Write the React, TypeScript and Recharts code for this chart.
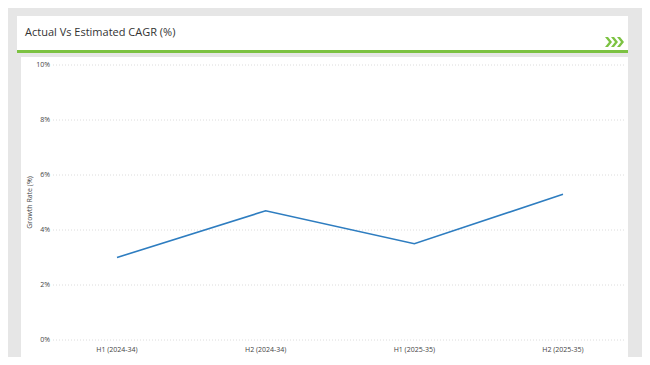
import { LineChart, Line, XAxis, YAxis, CartesianGrid } from 'recharts';

const periods = ['H1 (2024-34)', 'H2 (2024-34)', 'H1 (2025-35)', 'H2 (2025-35)'];
const growthRates = [3.0, 4.7, 3.5, 5.3];
const yTicks = [0, 2, 4, 6, 8, 10];

const chartData = periods.map((period, i) => ({ period, rate: growthRates[i] }));

const FONT = '"Open Sans", "Liberation Sans", Arial, sans-serif';

export default function App() {
  return (
    <div
      style={{
        position: 'relative',
        width: 650,
        height: 365,
        margin: -8,
        background: '#e6e6e6',
        fontFamily: FONT,
        overflow: 'hidden',
      }}
    >
      {/* header */}
      <div
        style={{
          position: 'absolute',
          left: 17,
          top: 16,
          width: 611,
          height: 34,
          background: '#fff',
          borderBottom: '3px solid #7cc242',
        }}
      >
        <div style={{ position: 'absolute', left: 8, top: 8, fontSize: 11, color: '#333' }}>
          Actual Vs Estimated CAGR (%)
        </div>
        <svg style={{ position: 'absolute', left: 588, top: 21 }} width={20} height={10}>
          {[0, 6, 12].map((x) => (
            <polygon key={x} points={`${x},0 ${x + 3},0 ${x + 7},5 ${x + 3},10 ${x},10 ${x + 4},5`} fill="#7cc242" />
          ))}
        </svg>
      </div>

      {/* chart */}
      <div style={{ position: 'absolute', left: 21, top: 57, width: 607, height: 300, background: '#fff' }}>
        <LineChart width={607} height={300} data={chartData} margin={{ top: 8, right: 3, bottom: 0, left: 0 }}>
          <CartesianGrid vertical={false} stroke="#dcdcdc" strokeDasharray="1 2" />
          <XAxis
            dataKey="period"
            axisLine={false}
            tickLine={false}
            tickSize={0}
            height={17}
            tickMargin={7}
            padding={{ left: 64, right: 62 }}
            tick={{ fontSize: 7, fill: '#444', fontFamily: FONT }}
            interval={0}
          />
          <YAxis
            width={32}
            domain={[0, 10]}
            ticks={yTicks}
            axisLine={false}
            tickLine={false}
            tickSize={0}
            tickMargin={3}
            tickFormatter={(v) => `${v}%`}
            tick={{ fontSize: 7, fill: '#444', fontFamily: FONT }}
            label={{
              value: 'Growth Rate (%)',
              angle: -90,
              position: 'insideLeft',
              offset: 9,
              style: { fontSize: 7, fill: '#444', fontFamily: FONT, textAnchor: 'middle' },
            }}
          />
          <Line
            type="linear"
            dataKey="rate"
            stroke="#2e7dc0"
            strokeWidth={1.6}
            dot={false}
            activeDot={false}
            isAnimationActive={false}
          />
        </LineChart>
      </div>
    </div>
  );
}
